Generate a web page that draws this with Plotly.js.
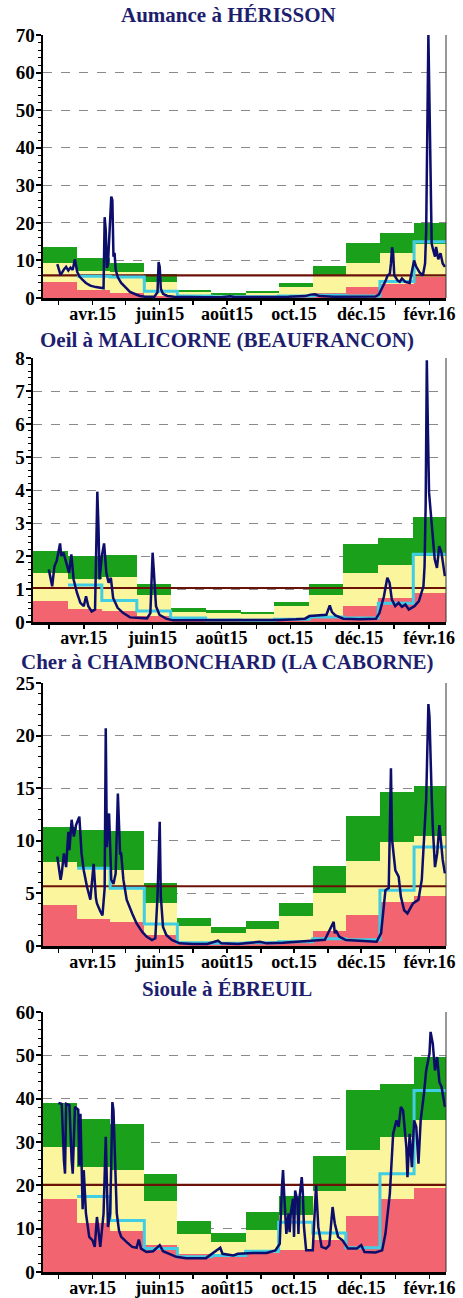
<!DOCTYPE html>
<html><head><meta charset="utf-8">
<script src="https://cdn.plot.ly/plotly-3.0.1.min.js"></script>
<style>html,body{margin:0;padding:0;background:#fff;}#chart{width:463px;height:1298px;}</style>
</head><body><div id="chart"></div>
<script>
// ---------- shared axis data ----------
const monthStarts = ['2015-03-01','2015-04-01','2015-05-01','2015-06-01','2015-07-01','2015-08-01','2015-09-01','2015-10-01','2015-11-01','2015-12-01','2016-01-01','2016-02-01'];
const periodEnd = '2016-03-01';
const tickDates = ['2015-03-15','2015-04-15','2015-05-15','2015-06-15','2015-07-15','2015-08-15','2015-09-15','2015-10-15','2015-11-15','2015-12-15','2016-01-15','2016-02-15'];
const tickLabels = ['', 'avr.15', '', 'juin15', '', 'août15', '', 'oct.15', '', 'déc.15', '', 'févr.16'];
const titles = ['Aumance à HÉRISSON', 'Oeil à MALICORNE (BEAUFRANCON)', 'Cher à CHAMBONCHARD (LA CABORNE)', 'Sioule à ÉBREUIL'];
const yMax = [70, 8, 25, 60];
const yStep = [10, 1, 5, 10];

// ---------- Panel 1 : Aumance à Hérisson ----------
const p1Dry = [4.3, 2.2, 1.3, 0.5, 0.3, 0.2, 0.25, 0.4, 1.2, 3.0, 3.6, 5.7];
const p1Normal = [9.3, 7.2, 6.9, 4.3, 1.6, 0.8, 1.2, 2.9, 5.9, 9.3, 12.0, 14.5];
const p1Wet = [13.7, 10.7, 9.4, 6.4, 2.1, 1.2, 1.8, 4.0, 8.6, 14.6, 17.3, 19.9];
const p1Monthly = [null, 5.8, 5.6, 1.8, 0.5, 0.3, 0.3, 0.5, 0.7, 0.5, 4.4, 15.0];
const p1Module = 6.0;
const p1Dates = ['2015-03-14','2015-03-17','2015-03-20','2015-03-22','2015-03-24','2015-03-26','2015-03-28','2015-03-30','2015-04-01','2015-04-03','2015-04-06','2015-04-09','2015-04-13','2015-04-18','2015-04-25','2015-04-26','2015-04-27','2015-04-28','2015-04-29','2015-05-01','2015-05-02','2015-05-03','2015-05-04','2015-05-05','2015-05-06','2015-05-08','2015-05-11','2015-05-15','2015-05-19','2015-05-24','2015-05-28','2015-06-02','2015-06-10','2015-06-13','2015-06-14','2015-06-15','2015-06-16','2015-06-18','2015-06-22','2015-06-28','2015-07-10','2015-07-25','2015-08-10','2015-08-18','2015-08-22','2015-09-10','2015-09-25','2015-10-10','2015-10-25','2015-10-30','2015-11-03','2015-11-07','2015-11-20','2015-12-10','2015-12-28','2015-12-31','2016-01-03','2016-01-06','2016-01-08','2016-01-10','2016-01-11','2016-01-12','2016-01-13','2016-01-14','2016-01-17','2016-01-19','2016-01-21','2016-01-24','2016-01-28','2016-01-31','2016-02-01','2016-02-03','2016-02-06','2016-02-09','2016-02-11','2016-02-12','2016-02-13','2016-02-14','2016-02-15','2016-02-16','2016-02-17','2016-02-18','2016-02-20','2016-02-21','2016-02-23','2016-02-25','2016-02-27','2016-02-29'];
const p1Flow = [9.0, 6.1, 7.6, 8.3, 7.3, 8.1, 7.5, 10.3, 7.0, 5.8, 4.8, 4.0, 3.3, 2.9, 2.6, 21.5, 18, 8.0, 9.0, 24.5, 27, 26, 11, 12, 7.5, 5.5, 4.0, 2.8, 1.6, 1.0, 0.55, 0.35, 0.3, 1.5, 9.6, 8.3, 2.5, 1.1, 0.55, 0.35, 0.25, 0.2, 0.22, 0.45, 0.25, 0.25, 0.3, 0.35, 0.5, 0.9, 1.0, 0.5, 0.35, 0.35, 0.4, 0.9, 2.5, 4.5, 6.0, 6.5, 9.2, 13.5, 11.9, 6.1, 4.7, 4.3, 5.2, 4.3, 4.0, 9.0, 10.0, 8.3, 6.8, 6.0, 9.2, 18, 45, 70, 52, 24, 14.5, 13.2, 11.0, 13.6, 10.3, 11.9, 9.2, 8.3];

// ---------- Panel 2 : Oeil à Malicorne ----------
const p2Dry = [0.65, 0.40, 0.32, 0.17, 0.07, 0.05, 0.05, 0.08, 0.12, 0.48, 0.73, 0.88];
const p2Normal = [1.47, 1.31, 1.36, 0.83, 0.31, 0.27, 0.23, 0.50, 0.83, 1.49, 1.74, 2.00];
const p2Wet = [2.15, 2.00, 2.02, 1.16, 0.42, 0.35, 0.31, 0.60, 1.16, 2.35, 2.56, 3.19];
const p2Monthly = [null, 1.12, 0.65, 0.33, 0.12, 0.06, 0.05, 0.08, 0.15, 0.12, 0.57, 2.05];
const p2Module = 1.03;
const p2Dates = ['2015-03-15','2015-03-18','2015-03-20','2015-03-22','2015-03-25','2015-03-26','2015-03-28','2015-03-31','2015-04-02','2015-04-04','2015-04-06','2015-04-09','2015-04-12','2015-04-15','2015-04-17','2015-04-19','2015-04-22','2015-04-25','2015-04-27','2015-04-28','2015-04-29','2015-05-01','2015-05-03','2015-05-05','2015-05-07','2015-05-09','2015-05-11','2015-05-15','2015-05-20','2015-05-26','2015-06-01','2015-06-10','2015-06-13','2015-06-15','2015-06-16','2015-06-18','2015-06-21','2015-06-27','2015-07-03','2015-07-20','2015-08-05','2015-08-20','2015-09-05','2015-09-20','2015-10-05','2015-10-20','2015-10-28','2015-11-01','2015-11-10','2015-11-16','2015-11-19','2015-11-21','2015-11-24','2015-12-01','2015-12-15','2015-12-30','2016-01-02','2016-01-06','2016-01-09','2016-01-11','2016-01-13','2016-01-16','2016-01-19','2016-01-22','2016-01-25','2016-01-28','2016-02-02','2016-02-06','2016-02-10','2016-02-11','2016-02-12','2016-02-13','2016-02-14','2016-02-15','2016-02-17','2016-02-19','2016-02-20','2016-02-22','2016-02-24','2016-02-26','2016-02-27','2016-02-29'];
const p2Flow = [1.59, 1.08, 1.69, 1.85, 2.38, 2.0, 2.1, 1.69, 1.49, 2.05, 1.29, 0.88, 0.58, 0.48, 0.78, 0.48, 0.32, 0.38, 3.95, 2.91, 1.29, 2.0, 2.38, 1.49, 1.19, 1.34, 0.73, 0.43, 0.27, 0.14, 0.12, 0.11, 0.27, 2.1, 1.59, 0.48, 0.22, 0.10, 0.05, 0.05, 0.04, 0.06, 0.05, 0.05, 0.06, 0.08, 0.1, 0.18, 0.2, 0.22, 0.5, 0.3, 0.2, 0.1, 0.08, 0.1, 0.27, 0.78, 1.34, 1.19, 0.68, 0.48, 0.58, 0.46, 0.53, 0.38, 0.48, 0.63, 1.08, 1.69, 3.6, 7.93, 5.75, 3.92, 3.1, 2.3, 1.9, 1.64, 2.3, 2.1, 1.9, 1.39];

// ---------- Panel 3 : Cher à Chambonchard ----------
const p3Dry = [3.9, 2.6, 2.3, 1.05, 0.4, 0.3, 0.3, 0.4, 1.42, 2.9, 4.2, 4.75];
const p3Normal = [8.0, 7.5, 7.2, 4.05, 1.9, 1.2, 1.65, 2.85, 5.06, 8.1, 9.9, 10.45];
const p3Wet = [11.3, 11.0, 10.9, 6.0, 2.7, 1.77, 2.37, 4.1, 7.6, 12.4, 14.6, 15.2];
const p3Monthly = [null, 7.4, 5.5, 2.1, 0.3, 0.25, 0.3, 0.4, 0.7, 0.6, 5.3, 9.4];
const p3Module = 5.68;
const p3Dates = ['2015-03-14','2015-03-17','2015-03-18','2015-03-20','2015-03-22','2015-03-24','2015-03-25','2015-03-27','2015-03-29','2015-03-31','2015-04-03','2015-04-05','2015-04-07','2015-04-10','2015-04-13','2015-04-16','2015-04-18','2015-04-19','2015-04-22','2015-04-24','2015-04-26','2015-04-27','2015-04-28','2015-04-30','2015-05-02','2015-05-04','2015-05-06','2015-05-08','2015-05-10','2015-05-11','2015-05-13','2015-05-16','2015-05-21','2015-05-25','2015-05-30','2015-06-03','2015-06-08','2015-06-11','2015-06-13','2015-06-15','2015-06-16','2015-06-18','2015-06-21','2015-06-26','2015-07-03','2015-07-15','2015-07-28','2015-08-07','2015-08-10','2015-08-25','2015-09-14','2015-09-20','2015-10-05','2015-10-20','2015-11-01','2015-11-12','2015-11-20','2015-11-21','2015-11-22','2015-11-25','2015-12-01','2015-12-15','2015-12-29','2016-01-02','2016-01-06','2016-01-09','2016-01-11','2016-01-12','2016-01-15','2016-01-18','2016-01-20','2016-01-23','2016-01-26','2016-01-31','2016-02-05','2016-02-08','2016-02-10','2016-02-12','2016-02-14','2016-02-15','2016-02-17','2016-02-18','2016-02-20','2016-02-22','2016-02-24','2016-02-26','2016-02-27','2016-02-29'];
const p3Flow = [8.5, 6.3, 6.9, 8.8, 7.5, 10.85, 9.1, 12.0, 10.4, 11.5, 12.3, 8.8, 7.2, 5.6, 4.4, 7.8, 4.6, 4.05, 3.3, 2.9, 5.5, 20.7, 9.4, 12.6, 6.3, 5.9, 6.9, 14.5, 8.8, 8.8, 6.3, 4.4, 3.1, 2.15, 1.36, 0.9, 0.57, 0.73, 4.7, 11.8, 4.7, 1.8, 1.05, 0.57, 0.25, 0.18, 0.2, 0.5, 0.25, 0.2, 0.4, 0.25, 0.3, 0.4, 0.5, 0.6, 2.3, 1.2, 1.5, 0.9, 0.57, 0.47, 0.4, 1.2, 5.3, 5.5, 16.9, 10.1, 7.2, 6.6, 4.7, 3.4, 3.1, 4.05, 4.4, 6.3, 10.7, 13.9, 23.0, 21.8, 14.2, 11.3, 7.5, 8.8, 11.5, 8.8, 8.2, 6.9];

// ---------- Panel 4 : Sioule à Ébreuil ----------
const p4Dry = [16.9, 11.4, 9.5, 6.2, 4.1, 4.1, 4.4, 5.0, 7.3, 12.9, 16.9, 19.3];
const p4Normal = [28.8, 24.2, 23.5, 16.4, 8.7, 6.9, 9.8, 13.1, 18.8, 28.2, 31.2, 35.0];
const p4Wet = [39.0, 35.4, 34.2, 22.7, 11.8, 9.0, 13.8, 17.5, 26.7, 41.9, 43.3, 49.6];
const p4Monthly = [null, 17.4, 11.9, 5.4, 3.5, 3.8, 4.8, 11.5, 9.0, 5.6, 22.7, 41.9];
const p4Module = 20.1;
const p4Dates = ['2015-03-15','2015-03-18','2015-03-20','2015-03-21','2015-03-22','2015-03-25','2015-03-27','2015-03-28','2015-03-30','2015-04-02','2015-04-03','2015-04-04','2015-04-06','2015-04-07','2015-04-09','2015-04-12','2015-04-15','2015-04-17','2015-04-19','2015-04-21','2015-04-22','2015-04-25','2015-04-27','2015-04-29','2015-05-01','2015-05-02','2015-05-03','2015-05-04','2015-05-06','2015-05-07','2015-05-09','2015-05-11','2015-05-16','2015-05-21','2015-05-25','2015-05-27','2015-05-29','2015-06-03','2015-06-09','2015-06-15','2015-06-18','2015-06-24','2015-06-30','2015-07-09','2015-07-27','2015-08-09','2015-08-11','2015-08-21','2015-08-25','2015-09-08','2015-09-20','2015-09-28','2015-10-02','2015-10-04','2015-10-05','2015-10-06','2015-10-08','2015-10-10','2015-10-11','2015-10-12','2015-10-14','2015-10-15','2015-10-16','2015-10-18','2015-10-19','2015-10-20','2015-10-22','2015-10-23','2015-10-24','2015-10-26','2015-11-01','2015-11-04','2015-11-06','2015-11-09','2015-11-13','2015-11-16','2015-11-19','2015-11-21','2015-11-24','2015-11-28','2015-12-03','2015-12-11','2015-12-15','2015-12-18','2015-12-28','2016-01-03','2016-01-06','2016-01-10','2016-01-13','2016-01-16','2016-01-18','2016-01-20','2016-01-22','2016-01-25','2016-01-26','2016-01-28','2016-01-30','2016-02-01','2016-02-03','2016-02-05','2016-02-07','2016-02-10','2016-02-12','2016-02-15','2016-02-16','2016-02-18','2016-02-20','2016-02-22','2016-02-24','2016-02-26','2016-02-27','2016-02-29'];
const p4Flow = [39, 38.8, 25.8, 22.7, 38.8, 38.5, 25.8, 22.7, 38.1, 37.5, 24.6, 36.5, 14.5, 23.5, 13.5, 8.1, 7.3, 5.8, 12.7, 7.3, 5.8, 13.5, 31.2, 10.4, 13.5, 25.4, 39.2, 37.3, 21.2, 13.5, 9.6, 8.1, 6.9, 5.8, 5.6, 7.5, 5.4, 4.6, 4.8, 6.2, 4.8, 4.2, 3.5, 3.2, 3.2, 5.6, 4.2, 3.8, 4.2, 4.4, 4.4, 5.0, 6.5, 19.6, 23.5, 18.1, 8.8, 13.5, 9.2, 13.5, 16.9, 8.1, 18.8, 16.5, 8.8, 17.3, 21.9, 18.1, 10.4, 5.0, 5.0, 20.0, 10.4, 5.8, 5.4, 6.2, 15.0, 11.2, 8.1, 7.3, 5.4, 5.4, 6.2, 4.6, 4.5, 5.0, 8.8, 18.1, 31.9, 35.0, 33.5, 38.1, 37.3, 28.8, 21.9, 31.9, 24.2, 35.0, 33.5, 25.0, 35.0, 41.2, 46.5, 50.4, 55.4, 52.7, 46.5, 49.6, 43.8, 42.7, 41.2, 38.1];

// ---------- styling ----------
const COL_DRY = '#f2646f', COL_NORMAL = '#fbf59e', COL_WET = '#1aa01a';
const COL_MONTHLY = '#41cde3', COL_FLOW = '#0d0d6b', COL_MODULE = '#6b1208';
const SERIF = '"Liberation Serif", "Times New Roman", serif';

const panels = [
  {dry:p1Dry, normal:p1Normal, wet:p1Wet, monthly:p1Monthly, module:p1Module, dates:p1Dates, flow:p1Flow, dx:[43,446], dy:[35,298], tx:228, ty:15},
  {dry:p2Dry, normal:p2Normal, wet:p2Wet, monthly:p2Monthly, module:p2Module, dates:p2Dates, flow:p2Flow, dx:[33,446], dy:[358,622], tx:227, ty:340},
  {dry:p3Dry, normal:p3Normal, wet:p3Wet, monthly:p3Monthly, module:p3Module, dates:p3Dates, flow:p3Flow, dx:[43,446], dy:[683,946], tx:227, ty:662},
  {dry:p4Dry, normal:p4Normal, wet:p4Wet, monthly:p4Monthly, module:p4Module, dates:p4Dates, flow:p4Flow, dx:[43,446], dy:[1012,1272], tx:227, ty:989}
];

const W = 463, H = 1298;
const toMs = s => { const p = s.split('-').map(Number); return Date.UTC(p[0], p[1]-1, p[2]); };
const bounds = monthStarts.concat([periodEnd]);
const monthWidths = monthStarts.map((m, i) => toMs(bounds[i+1]) - toMs(m));

const traces = [];
const layout = {
  width: W, height: H, margin: {l:0, r:0, t:0, b:0},
  paper_bgcolor: '#fff', plot_bgcolor: '#fff',
  showlegend: false, barmode: 'overlay', bargap: 0,
  annotations: [], shapes: []
};

panels.forEach((p, i) => {
  const n = i === 0 ? '' : String(i + 1);
  const xa = 'x' + n, ya = 'y' + n;
  const lowers = [p.dry.map(() => 0), p.dry, p.normal];
  const uppers = [p.dry, p.normal, p.wet];
  const cols = [COL_DRY, COL_NORMAL, COL_WET];
  for (let b = 0; b < 3; b++) {
    traces.push({
      type: 'bar', xaxis: xa, yaxis: ya,
      x: monthStarts, base: lowers[b],
      y: uppers[b].map((u, k) => u - lowers[b][k]),
      width: monthWidths, offset: 0,
      marker: {color: cols[b], line: {width: 0}}, hoverinfo: 'skip'
    });
  }
  traces.push({
    type: 'scatter', mode: 'lines', xaxis: xa, yaxis: ya,
    x: [monthStarts[0], periodEnd], y: [p.module, p.module],
    line: {color: COL_MODULE, width: 2.2}, hoverinfo: 'skip'
  });
  traces.push({
    type: 'scatter', mode: 'lines', xaxis: xa, yaxis: ya,
    x: bounds, y: p.monthly.concat([p.monthly[p.monthly.length - 1]]),
    line: {color: COL_MONTHLY, width: 3, shape: 'hv'}, connectgaps: false, hoverinfo: 'skip'
  });
  traces.push({
    type: 'scatter', mode: 'lines', xaxis: xa, yaxis: ya,
    x: p.dates, y: p.flow,
    line: {color: COL_FLOW, width: 2.5}, hoverinfo: 'skip'
  });

  layout['xaxis' + n] = {
    domain: [p.dx[0] / W, p.dx[1] / W], anchor: ya, type: 'date',
    range: [monthStarts[0], periodEnd],
    tickmode: 'array', tickvals: tickDates, ticktext: tickLabels,
    ticks: 'outside', ticklen: 4, tickwidth: 1.5, tickcolor: '#000',
    ticklabelstandoff: -6,
    showline: true, linecolor: '#000', linewidth: 2.5,
    showgrid: false, zeroline: false, fixedrange: true,
    tickfont: {family: SERIF, size: 18, color: '#000', weight: 'bold'}
  };
  layout['yaxis' + n] = {
    domain: [1 - p.dy[1] / H, 1 - p.dy[0] / H], anchor: xa,
    range: [0, yMax[i]], tick0: 0, dtick: yStep[i],
    ticks: 'outside', ticklen: 5, tickwidth: 2, tickcolor: '#000',
    ticklabelstandoff: -3,
    minor: {dtick: yStep[i] / 5, ticks: 'outside', ticklen: 3, tickwidth: 1, tickcolor: '#000', showgrid: false},
    showline: true, linecolor: '#000', linewidth: 2.5,
    showgrid: true, gridcolor: '#8a8a8a', griddash: 'dash', gridwidth: 1,
    zeroline: false, fixedrange: true,
    tickfont: {family: SERIF, size: 19, color: '#000', weight: 'bold'}
  };
  layout.shapes.push({
    type: 'line', xref: xa + ' domain', yref: ya + ' domain',
    x0: 1, x1: 1, y0: 0, y1: 1, line: {color: '#333', width: 1}
  });
  layout.annotations.push({
    text: titles[i], xref: 'paper', yref: 'paper',
    x: p.tx / W, y: 1 - p.ty / H, xanchor: 'center', yanchor: 'middle',
    showarrow: false,
    font: {family: SERIF, size: 21, color: '#1e1e6e', weight: 'bold'}
  });
});

Plotly.newPlot('chart', traces, layout, {staticPlot: true, displayModeBar: false});
</script>
</body></html>
